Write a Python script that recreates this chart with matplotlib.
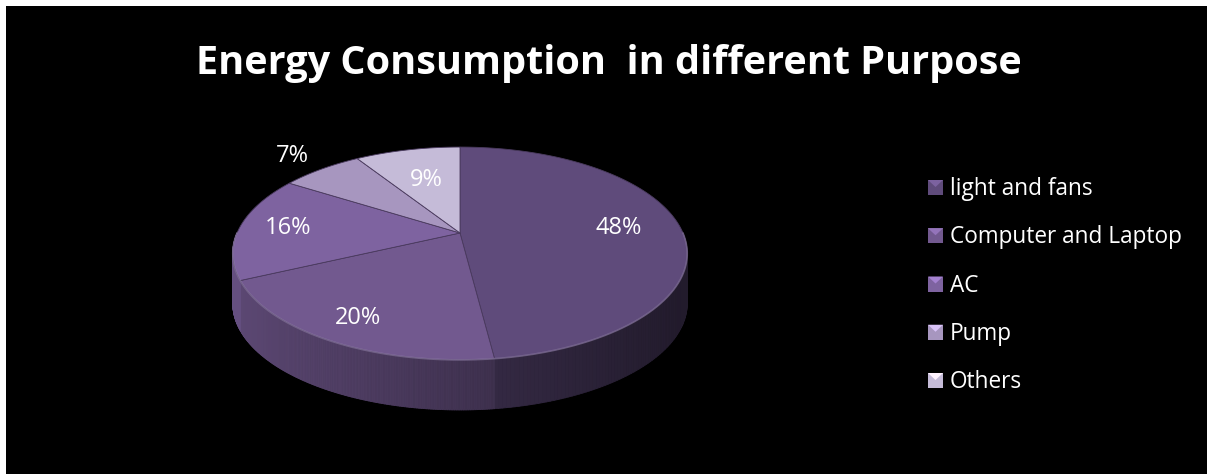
import numpy as np
import matplotlib.pyplot as plt
from matplotlib.patches import Polygon, Rectangle
from matplotlib.collections import PolyCollection
from matplotlib.colors import to_rgb

# data
categories = ["light and fans", "Computer and Laptop", "AC", "Pump", "Others"]
shares = [48, 20, 16, 7, 9]
pct_labels = ["48%", "20%", "16%", "7%", "9%"]
colors = ["#5f4b7b", "#72598f", "#7e63a0", "#a796bf", "#c5bbd8"]
title = "Energy Consumption  in different Purpose"

# layout (pixels)
W, H = 1207, 474
cx, cy = 460, 233          # apex of the pie
a, b, k = 223, 102.5, 0.1925  # radii + perspective factor
depth = 50
label_r = [0.72, 0.82, 0.78, 1.24, 0.6]

plt.rcParams['font.family'] = ['Open Sans', 'DejaVu Sans']

fig = plt.figure(figsize=(W / 100, H / 100), dpi=100, facecolor="black")
ax = fig.add_axes([0, 0, 1, 1])
ax.set_facecolor("black")
ax.set_xlim(0, W)
ax.set_ylim(H, 0)
ax.set_xticks([])
ax.set_yticks([])
for sp in ax.spines.values():
    sp.set_visible(False)

# white strips on top and left like the original screenshot
ax.add_patch(Rectangle((0, 0), W, 6, facecolor="white", edgecolor="none"))
ax.add_patch(Rectangle((0, 0), 6, H, facecolor="white", edgecolor="none"))


def proj(theta, r=1.0):
    c, s = np.cos(theta) * r, np.sin(theta) * r
    d = 1 + k * s
    return cx + a * c / d, cy - b * s / d


fracs = np.array(shares) / sum(shares)
cum = np.concatenate([[0], np.cumsum(fracs)])
starts = np.radians(90 - 360 * cum[:-1])
ends = np.radians(90 - 360 * cum[1:])

# side walls (front half only), shaded left -> right
quads, qcols = [], []
for i in range(len(shares)):
    th = np.linspace(starts[i], ends[i], 200)
    for t0, t1 in zip(th[:-1], th[1:]):
        if np.sin((t0 + t1) / 2) >= 0:
            continue
        x0, y0 = proj(t0)
        x1, y1 = proj(t1)
        quads.append([(x0, y0), (x1, y1), (x1, y1 + depth), (x0, y0 + depth)])
        f = 0.8 - 0.44 * ((x0 + x1) / 2 - (cx - a)) / (2 * a)
        qcols.append(np.clip(np.array(to_rgb(colors[i])) * f, 0, 1))
ax.add_collection(PolyCollection(quads, facecolors=qcols, edgecolors=qcols, linewidths=0.6))

# top faces
for i in range(len(shares)):
    th = np.linspace(starts[i], ends[i], 200)
    xs, ys = proj(th)
    pts = [(cx, cy)] + list(zip(xs, ys))
    ax.add_patch(Polygon(pts, closed=True, facecolor=colors[i],
                         edgecolor="#4a3a5e", linewidth=0.6))

# light rim on the front edge
th = np.linspace(np.pi, 2 * np.pi, 300)
xs, ys = proj(th)
ax.plot(xs, ys, color="#a898c0", alpha=0.4, lw=1.2)

# percentage labels
for i in range(len(shares)):
    mid = (starts[i] + ends[i]) / 2
    x, y = proj(mid, label_r[i])
    ax.text(x, y, pct_labels[i], color="white", fontsize=17,
            ha="center", va="center")

# title
ax.text(609, 74, title, color="white", fontsize=28.5, fontweight="bold",
        ha="center", va="baseline")

# legend
for i, name in enumerate(categories):
    base = 195 + 48.25 * i
    x0 = 928
    ax.add_patch(Rectangle((x0, base - 15), 15, 15, facecolor=colors[i],
                           edgecolor="none"))
    light = np.clip(np.array(to_rgb(colors[i])) * 1.3, 0, 1)
    ax.add_patch(Polygon([(x0, base - 15), (x0 + 15, base - 15), (x0 + 7.5, base - 8)],
                         closed=True, facecolor=light, edgecolor="none"))
    ax.text(950, base, name, color="white", fontsize=16.3, ha="left", va="baseline")

fig.savefig("out.png", dpi=100, facecolor="black")
